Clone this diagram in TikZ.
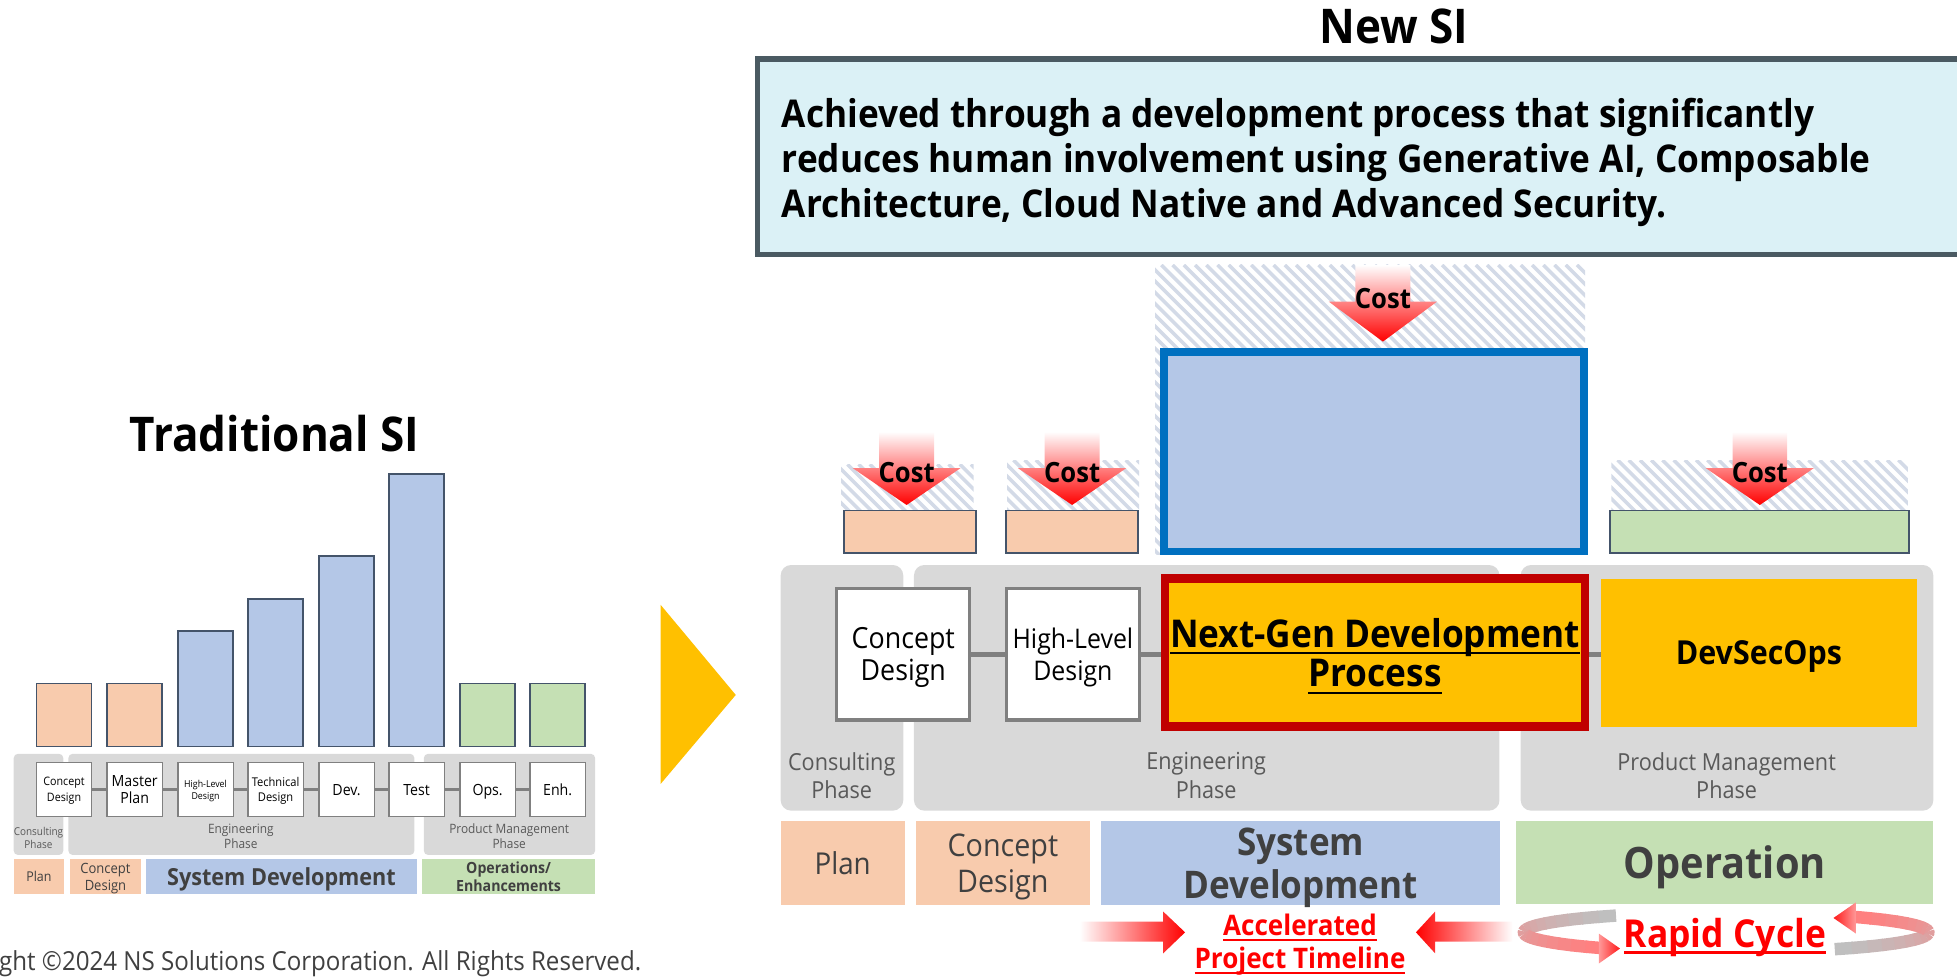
\documentclass[tikz,border=0pt]{standalone}
\usepackage{fontspec}
\setmainfont{Open Sans}[FakeStretch=0.92]
\usetikzlibrary{fit}
\definecolor{corange}{HTML}{F8CBAD}
\definecolor{cblue}{HTML}{B4C7E7}
\definecolor{cgreen}{HTML}{C5E0B4}
\definecolor{cedge}{HTML}{44546A}
\definecolor{cgold}{HTML}{FFC000}
\definecolor{cpanel}{HTML}{D9D9D9}
\definecolor{chatch}{HTML}{D3DAE7}
\definecolor{cdesc}{HTML}{DBF1F6}
\definecolor{cdescb}{HTML}{4A5A62}
\definecolor{cbluebd}{HTML}{0070C0}
\definecolor{credbd}{HTML}{C00000}
\definecolor{cdark}{HTML}{404040}
\definecolor{cphase}{HTML}{595959}
\definecolor{cgrayln}{HTML}{808080}
\colorlet{rbA}{gray!50!white}
\colorlet{rbB}{red!50!white}
\newcommand{\R}[7]{\node[fit={(#2,#3)(#4,#5)},inner sep=0pt,outer sep=0pt,#6] (#1) {};%
 \if\relax\detokenize{#7}\relax\else\node[inner sep=0pt,outer sep=0pt,#6,draw=none,fill=none,text depth=0pt] (#1t) at (#1.center) {#7};\fi}
\newcommand{\fs}[2]{\fontsize{#1}{#2}\selectfont}
\newcommand{\myul}[3]{\leavevmode\setbox0=\hbox{#3}\rlap{\rule[-#1]{\wd0}{#2}}\box0}
\newcommand{\hatch}[4]{\begin{scope}\clip (#1,#2) rectangle (#3,#4);
 \foreach \s in {-400,-391,...,400}{\draw[chatch,line width=1.7pt] ({#1+\s},#2) -- ++(400,400);}
 \end{scope}}
\newcommand{\costarr}[6]{\shade[top color=white,bottom color=red] ({#1-#2},#4) -- ({#1+#2},#4) -- ({#1+#2},#5) -- ({#1+#3},#5) -- (#1,#6) -- ({#1-#3},#5) -- ({#1-#2},#5) -- cycle;}
\begin{document}
\begin{tikzpicture}[x=0.6pt,y=-0.6pt,
 bar/.style={draw=cedge,line width=0.8pt},
 lbox/.style={draw=cgrayln,line width=0.6pt,fill=white,align=center,text=black},
 panel/.style={fill=cpanel,rounded corners=2pt},
 rpanel/.style={fill=cpanel,rounded corners=5pt},
 lphase/.style={align=center,text=cphase,inner sep=0pt},
 rphase/.style={align=center,text=cphase,font=\fs{11.3}{13.8},inner sep=0pt},
 rbox/.style={draw=cgrayln,line width=1.5pt,fill=white,align=center},
 rconn/.style={draw=cgrayln,line width=2.4pt},
 lconn/.style={draw=cgrayln,line width=1.1pt},
 cost/.style={font=\fs{13.4}{15}\bfseries,inner sep=0pt}]
\useasboundingbox (0,0) rectangle (1568,782);
% ---------------- LEFT: Traditional SI
\node[font=\fs{23}{27}\bfseries,anchor=base] (ttrad) at (220,362) {Traditional SI};
\R{bar1}{29.2}{547.5}{73.4}{598}{bar,fill=corange}{}
\R{bar2}{85.8}{547.5}{130}{598}{bar,fill=corange}{}
\R{bar3}{142.6}{505.6}{186.8}{598}{bar,fill=cblue}{}
\R{bar4}{198.7}{480}{242.9}{598}{bar,fill=cblue}{}
\R{bar5}{255.6}{445.5}{299.8}{598}{bar,fill=cblue}{}
\R{bar6}{311.7}{379.8}{355.9}{598}{bar,fill=cblue}{}
\R{bar7}{368.6}{547.5}{412.8}{598}{bar,fill=cgreen}{}
\R{bar8}{424.7}{547.5}{468.9}{598}{bar,fill=cgreen}{}
\R{lp1}{11}{604}{50.7}{685}{panel}{}
\R{lp2}{54.8}{604}{332}{685}{panel}{}
\R{lp3}{339.6}{604}{476.8}{685}{panel}{}
\node[lphase,font=\fs{5.2}{6.5}] (lpt1) at (30.8,671.5) {Consulting\\Phase};
\node[lphase,font=\fs{6.2}{7.4}] (lpt2) at (193,670) {Engineering\\Phase};
\node[lphase,font=\fs{6.2}{7.4}] (lpt3) at (408,670) {Product Management\\Phase};
\R{lb1}{29.2}{610.8}{73.4}{654.4}{lbox,font=\fs{5.6}{7.6}}{Concept\\Design}
\R{lb2}{85.8}{610.8}{130}{654.4}{lbox,font=\fs{7.4}{8.6}}{Master\\Plan}
\R{lb3}{142.6}{610.8}{186.8}{654.4}{lbox,font=\fs{4.6}{5.6}}{High-Level\\Design}
\R{lb4}{198.7}{610.8}{242.9}{654.4}{lbox,font=\fs{5.8}{7.4}}{Technical\\Design}
\R{lb5}{255.6}{610.8}{299.8}{654.4}{lbox,font=\fs{7.4}{8.6}}{Dev.}
\R{lb6}{311.7}{610.8}{355.9}{654.4}{lbox,font=\fs{7.4}{8.6}}{Test}
\R{lb7}{368.6}{610.8}{412.8}{654.4}{lbox,font=\fs{7.4}{8.6}}{Ops.}
\R{lb8}{424.7}{610.8}{468.9}{654.4}{lbox,font=\fs{7.4}{8.6}}{Enh.}
\foreach \a/\b in {1/2,2/3,3/4,4/5,5/6,6/7,7/8}{\draw[lconn] (lb\a.east) -- (lb\b.west);}
\R{lq1}{11}{688.5}{51.3}{716.6}{fill=corange,text=cdark,font=\fs{6.5}{7.5}}{Plan}
\R{lq2}{56}{688.5}{113}{716.6}{fill=corange,text=cdark,align=center,font=\fs{6.8}{7.8}}{Concept\\Design}
\R{lq3}{117}{688.5}{334}{716.6}{fill=cblue,text=cdark,font=\fs{11.3}{13}\bfseries}{System Development}
\R{lq4}{338}{688.5}{477}{716.6}{fill=cgreen,text=cdark,align=center,font=\fs{7.4}{8.6}\bfseries}{Operations/\\Enhancements}
\node[anchor=west,inner sep=0pt,font=\fs{12.6}{15},text=cdark] (copy) at (-1,772) {ght ©2024 NS Solutions Corporation. All Rights Reserved.};
% ---------------- big arrow
\fill[cgold] (529.4,484.7) -- (589.5,556.8) -- (529.4,628) -- cycle;
% ---------------- RIGHT: New SI
\node[font=\fs{23}{27}\bfseries,anchor=base] (tnew) at (1117,35) {New SI};
\fill[cdesc] (607,47.5) rectangle (1568,204);
\draw[cdescb,line width=2.7pt] (1568,47.5) -- (607,47.5) -- (607,204) -- (1568,204);
\node[anchor=west,align=left,inner sep=0pt,font=\fs{18.4}{21.5}\bfseries] (desc) at (626,130) {Achieved through a development process that significantly\\reduces human involvement using Generative AI, Composable\\Architecture, Cloud Native and Advanced Security.};
\hatch{674}{372}{780}{408.6}
\hatch{807}{368.6}{912.6}{408.6}
\hatch{925.5}{212.3}{1270}{444}
\hatch{1291}{368.6}{1528.7}{408.6}
\costarr{726.4}{22}{43.3}{345.8}{375}{404.6}
\costarr{859}{22.1}{43.5}{345.8}{375}{404.6}
\costarr{1108}{22}{43.3}{212.3}{241.7}{273.7}
\costarr{1410}{21.8}{43.4}{345.8}{375}{404.6}
\R{co1}{676}{409}{782}{443}{bar,fill=corange}{}
\R{co2}{806}{409}{912}{443}{bar,fill=corange}{}
\R{cb}{932.6}{282}{1269}{441.7}{draw=cbluebd,line width=3.6pt,fill=cblue}{}
\R{cg}{1290}{409}{1529.5}{443.3}{bar,fill=cgreen}{}
\node[cost] (t1) at (726.4,379) {Cost};
\node[cost] (t2) at (859,379) {Cost};
\node[cost] (t3) at (1108,239) {Cost};
\node[cost] (t4) at (1410,379) {Cost};
\R{rp1}{625.5}{452.7}{723.7}{649.5}{rpanel}{}
\R{rp2}{732.3}{452.7}{1201.4}{649.5}{rpanel}{}
\R{rp3}{1218.4}{452.7}{1549}{649.5}{rpanel}{}
\node[rphase] (rpt1) at (674.4,621.5) {Consulting\\Phase};
\node[rphase] (rpt2) at (966.4,621.5) {Engineering\\Phase};
\node[rphase] (rpt3) at (1383.4,621.5) {Product Management\\Phase};
\R{rcd}{670.5}{471.4}{777}{576.9}{rbox,font=\fs{14}{15.6}}{Concept\\Design}
\R{rhl}{806.4}{471.4}{912.9}{576.9}{rbox,font=\fs{13}{15.6}}{High-Level\\Design}
\R{rds}{1282.8}{464}{1535.7}{582.2}{fill=cgold,font=\fs{15.9}{18}\bfseries}{DevSecOps}
\draw[rconn] (rcd.east) -- (rhl.west);
\draw[rconn] (rhl.east) -- (rhl.east -| rds.west);
\R{rng}{933.5}{463.4}{1269.9}{581.9}{draw=credbd,line width=4.2pt,fill=cgold,align=center,font=\fs{18.4}{19}\bfseries}{\myul{3.5pt}{1.1pt}{Next-Gen Development}\\\myul{3.5pt}{1.1pt}{Process}}
\R{rq1}{625.6}{657.8}{724.7}{725.5}{fill=corange,text=cdark,font=\fs{14.5}{17}}{Plan}
\R{rq2}{734}{657.8}{873}{725.5}{fill=corange,text=cdark,align=center,font=\fs{15}{17.6}}{Concept\\Design}
\R{rq3}{882.4}{657.8}{1201.8}{725.5}{fill=cblue,text=cdark,align=center,font=\fs{18.3}{20.8}\bfseries}{System\\Development}
\R{rq4}{1215}{657.8}{1549}{724}{fill=cgreen,text=cdark,font=\fs{20.8}{24}\bfseries}{Operation}
% accelerated arrows
\shade[left color=white,right color=red] (865,738.5) -- (932,738.5) -- (932,730.4) -- (949.5,747) -- (932,763.8) -- (932,754.5) -- (865,754.5) -- cycle;
\shade[left color=red,right color=white] (1134.5,747) -- (1149.8,730.4) -- (1149.8,738.5) -- (1212,738.5) -- (1212,754.5) -- (1149.8,754.5) -- (1149.8,763.8) -- cycle;
\node[align=center,text=red,inner sep=0pt,font=\fs{13.6}{16}\bfseries] (acc) at (1041.6,757) {\myul{2.5pt}{1pt}{Accelerated}\\\myul{2.5pt}{1pt}{Project Timeline}};
% rapid cycle ribbons
\foreach \k in {0,...,17}{
 \pgfmathsetmacro{\ta}{237-\k*109/18}
 \pgfmathsetmacro{\tb}{237-(\k+1)*109/18-0.6}
 \pgfmathtruncatemacro{\pc}{100*\k/17}
 \draw[line width=6pt,color=rbB!\pc!rbA] plot[domain=\ta:\tb,samples=4,variable=\t] ({1383+162*cos(\t)},{747+16*sin(\t)});
}
\foreach \k in {0,...,17}{
 \pgfmathsetmacro{\ta}{57.5-\k*107.5/18}
 \pgfmathsetmacro{\tb}{57.5-(\k+1)*107.5/18-0.6}
 \pgfmathtruncatemacro{\pc}{100*\k/17}
 \draw[line width=6pt,color=rbB!\pc!rbA] plot[domain=\ta:\tb,samples=4,variable=\t] ({1383+162*cos(\t)},{747+16*sin(\t)});
}
\shade[left color=red!40!white,right color=red!90!white] (1281,748) -- (1298,760) -- (1281,772) -- cycle;
\shade[left color=red!90!white,right color=red!40!white] (1487,723) -- (1469,735.5) -- (1487,748) -- cycle;
\node[text=red,inner sep=0pt,font=\fs{18.5}{21}\bfseries] (rc) at (1382,751) {\myul{3pt}{1.1pt}{Rapid Cycle}};
\end{tikzpicture}
\end{document}
